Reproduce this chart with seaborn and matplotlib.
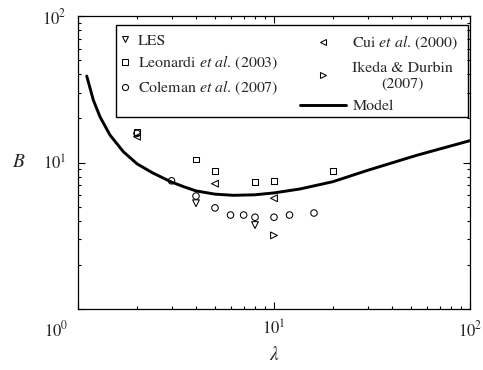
import matplotlib
matplotlib.use('Agg')
import matplotlib.pyplot as plt
import matplotlib.transforms as mtrans
import seaborn as sns
import pandas as pd
from matplotlib.lines import Line2D
from matplotlib.patches import Rectangle
from matplotlib.ticker import LogLocator, NullFormatter

# ---- data ----
les_lam = [4, 8]
les_B = [5.27, 3.74]
leo_lam = [2, 4, 5, 8, 10, 20]
leo_B = [16.2, 10.5, 8.75, 7.4, 7.5, 8.75]
col_lam = [2, 3, 4, 5, 6, 7, 8, 10, 12, 16]
col_B = [15.8, 7.5, 5.9, 4.9, 4.38, 4.38, 4.23, 4.23, 4.38, 4.52]
cui_lam = [2, 5, 10]
cui_B = [15.0, 7.17, 5.7]
ike_lam = [10]
ike_B = [3.18]
model_lam = [1.108, 1.197, 1.295, 1.456, 1.703, 2.0, 2.4, 3.0, 3.5, 4.0,
             5.0, 6.2, 8.0, 10, 13.6, 20, 29.7, 53.5, 100]
model_B = [38.9, 26.7, 20.5, 15.4, 11.85, 9.8, 8.5, 7.35, 6.8, 6.4,
           6.08, 5.97, 6.02, 6.2, 6.6, 7.4, 8.8, 11.2, 14.1]

labels = ['LES', 'Leonardi $\\it{et\\ al}$. (2003)', 'Coleman $\\it{et\\ al}$. (2007)',
          'Cui $\\it{et\\ al}$. (2000)', 'Ikeda & Durbin\n(2007)', 'Model']

sns.set_style('ticks')
plt.rcParams['font.family'] = ['STIXGeneral', 'DejaVu Serif']
plt.rcParams['mathtext.fontset'] = 'stix'

fig = plt.figure(figsize=(4.83, 3.70), dpi=100)
ax = fig.add_axes([78 / 483, 1 - 309 / 370, 392 / 483, 293 / 370])

series = [
    (les_lam, les_B, 'v', 24),
    (leo_lam, leo_B, 's', 17),
    (col_lam, col_B, 'o', 22),
    (cui_lam, cui_B, '<', 24),
    (ike_lam, ike_B, '>', 24),
]
for lam, B, mk, sz in series:
    df = pd.DataFrame({'lam': lam, 'B': B})
    sns.scatterplot(data=df, x='lam', y='B', marker=mk, s=sz,
                    facecolor='none', edgecolor='black', linewidth=0.75, ax=ax, zorder=3)

dfm = pd.DataFrame({'lam': model_lam, 'B': model_B})
sns.lineplot(data=dfm, x='lam', y='B', color='black', linewidth=2.1, sort=False,
             estimator=None, ax=ax, zorder=4)

ax.set_xscale('log')
ax.set_yscale('log')
ax.set_xlim(1, 100)
ax.set_ylim(1, 100)

for axis in (ax.xaxis, ax.yaxis):
    axis.set_major_locator(LogLocator(base=10, numticks=10))
    axis.set_minor_locator(LogLocator(base=10, subs=range(2, 10), numticks=10))
    axis.set_minor_formatter(NullFormatter())

ax.tick_params(which='both', direction='in', top=True, right=True, color='black', width=0.8)
ax.tick_params(which='major', length=5, labelsize=12, pad=8)
ax.tick_params(which='minor', length=2.5)
for s in ax.spines.values():
    s.set_color('black')
    s.set_linewidth(0.9)

ax.set_xlabel('$\\lambda$', fontsize=14)
ax.set_ylabel('$B$', fontsize=14, rotation=0, va='center', ha='center')
ax.yaxis.set_label_coords(-0.152, 0.5)
ax.xaxis.set_label_coords(0.5, -0.125)

# legend: two columns inside a single frame
mkw = dict(ls='none', mfc='none', mec='black', mew=0.75)
hA = [Line2D([], [], marker='v', ms=4.6, **mkw), Line2D([], [], marker='s', ms=4.0, **mkw),
      Line2D([], [], marker='o', ms=4.4, **mkw)]
hB = [Line2D([], [], marker='<', ms=4.6, **mkw), Line2D([], [], marker='>', ms=4.6, **mkw),
      Line2D([], [], color='black', lw=2.1)]
fs = 11.4
legA = ax.legend(hA, labels[:3], loc='upper left', bbox_to_anchor=(0.106, 0.94),
                 frameon=False, fontsize=fs, handlelength=0.75, handletextpad=0.42,
                 labelspacing=0.39, borderpad=0, borderaxespad=0, numpoints=1)
ax.add_artist(legA)
legB = ax.legend(hB, labels[3:], loc='upper left', bbox_to_anchor=(0.566, 0.94),
                 frameon=False, fontsize=fs, handlelength=2.9, handletextpad=0.42,
                 labelspacing=0.58, borderpad=0, borderaxespad=0, numpoints=1)
for t in legB.get_texts():
    t.set_multialignment('center')
    t.set_linespacing(1.2)
ax.add_patch(Rectangle((0.097, 0.655), 0.898, 0.314, transform=ax.transAxes,
                       fill=False, edgecolor='black', linewidth=1.0, zorder=5))

# reference shows a single "10^0" at the lower-left corner, shifted left
fig.canvas.draw()
for tick in ax.yaxis.get_major_ticks():
    if abs(tick.get_loc() - 1) < 1e-9:
        tick.label1.set_visible(False)
for tick in ax.xaxis.get_major_ticks():
    if abs(tick.get_loc() - 1) < 1e-9:
        lab = tick.label1
        lab.set_transform(lab.get_transform() +
                          mtrans.ScaledTranslation(-22 / 100, 0, fig.dpi_scale_trans))

fig.savefig('out.png', dpi=100)
